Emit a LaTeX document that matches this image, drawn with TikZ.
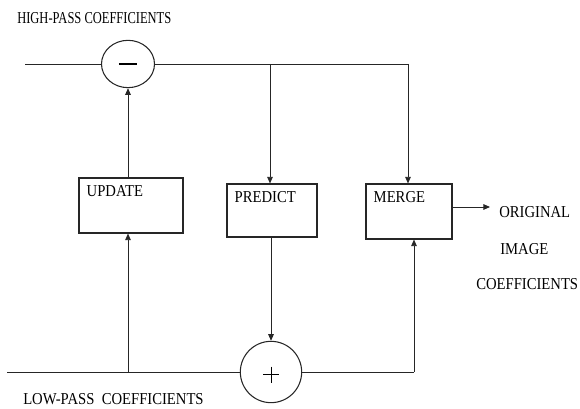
\documentclass[tikz,border=0pt]{standalone}
\usepackage{fontspec}
\setmainfont{Liberation Serif}[FakeStretch=0.88]
\newfontfamily\hpfont{Liberation Serif}[FakeStretch=0.75]
\usetikzlibrary{arrows.meta,shapes.geometric}

\tikzset{
  wire/.style={draw, line width=0.7pt, color=black!85},
  sig/.style={wire, -{Triangle[length=5pt,width=4.2pt]}},
  blk/.style={draw, line width=0.8pt, color=black!85, rectangle, inner sep=0pt},
  lbl/.style={anchor=west, inner sep=0pt, font=\fontsize{12.5}{14}\selectfont}
}

\begin{document}
\begin{tikzpicture}[x=0.75pt,y=-0.75pt]
\useasboundingbox (0,0) rectangle (580,409);

\node[lbl] (hp) at (17,18) {\hpfont HIGH-PASS COEFFICIENTS};
\node[lbl] (lp) at (23,399.5) {LOW-PASS\ \ COEFFICIENTS};
\node[lbl] (o1) at (499,212) {ORIGINAL};
\node[lbl] (o2) at (500,249) {IMAGE};
\node[lbl] (o3) at (476,284) {COEFFICIENTS};

\node[ellipse, draw, line width=0.8pt, color=black!85, minimum width=39.75pt, minimum height=35.5pt, inner sep=0pt] (minus) at (128,64) {};
\draw[line width=1.6pt] ([xshift=-6.8pt]minus.center) -- ([xshift=6.8pt]minus.center);
\node[circle, draw, line width=0.8pt, color=black!85, minimum size=46pt, inner sep=0pt] (plus) at (271,372) {};
\draw[line width=0.6pt] ([xshift=-6pt,yshift=-2pt]plus.center) -- ([xshift=6pt,yshift=-2pt]plus.center);
\draw[line width=0.6pt] ([yshift=4pt]plus.center) -- ([yshift=-8pt]plus.center);

\node[blk, minimum width=78pt, minimum height=41.25pt] (upd) at (131,205.5) {};
\node[blk, minimum width=67.5pt, minimum height=39.75pt] (pred) at (272,210.5) {};
\node[blk, minimum width=64.5pt, minimum height=41.25pt] (mrg) at (409,211.5) {};
\node[lbl, anchor=north west] (updt) at ([shift={(8,8)}]upd.north west) {UPDATE};
\node[lbl, anchor=north west] (predt) at ([shift={(8,8)}]pred.north west) {PREDICT};
\node[lbl, anchor=north west] (mrgt) at ([shift={(8,8)}]mrg.north west) {MERGE};

\coordinate (inT) at (25,64);
\coordinate (brT) at (270,64);
\coordinate (endT) at (408,64);
\coordinate (inB) at (7,372);
\coordinate (brB) at (128,372);
\coordinate (endB) at (414,372);
\coordinate (outA) at (490,207);

\draw[wire] (inT) -- (minus.west);
\draw[wire] (minus.east) -- (endT);
\draw[sig] (brT) -- (brT |- pred.north);
\draw[sig] (endT) -- (endT |- mrg.north);
\draw[sig] (upd.north -| minus) -- (minus.south);
\draw[wire] (inB) -- (plus.west);
\draw[sig] (brB) -- (brB |- upd.south);
\draw[sig] (plus |- pred.south) -- (plus.north);
\draw[wire] (plus.east) -- (endB);
\draw[sig] (endB) -- (endB |- mrg.south);
\draw[sig] (mrg.east |- outA) -- (outA);
\end{tikzpicture}
\end{document}
